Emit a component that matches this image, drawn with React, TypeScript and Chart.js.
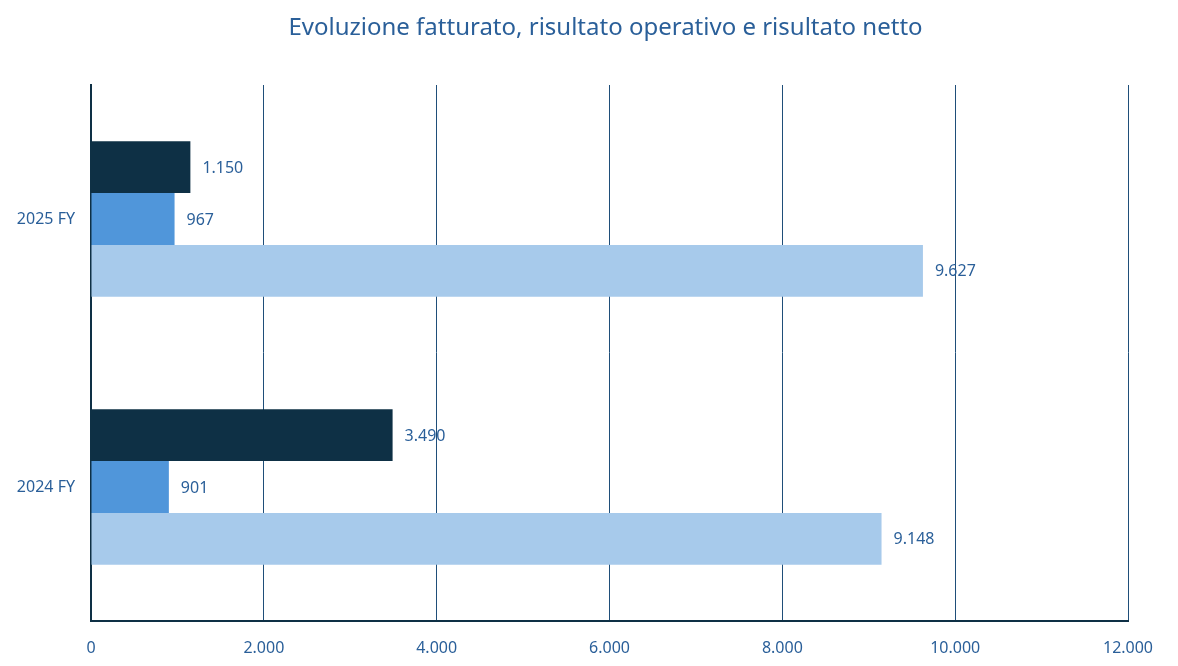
import Chart from "chart.js/auto";
import React, { useEffect, useRef } from "react";

const categories = ["2025 FY", "2024 FY"];
const risultatoNetto = [1150, 3490];
const risultatoOperativo = [967, 901];
const fatturato = [9627, 9148];
const xTicks = [0, 2000, 4000, 6000, 8000, 10000, 12000];
const titleText = "Evoluzione fatturato, risultato operativo e risultato netto";

const TEXT = "#2A5F99";
const FONT = "'Noto Sans', sans-serif";

const fmt = (v: number) =>
  String(Math.round(v)).replace(/\B(?=(\d{3})+(?!\d))/g, ".");

// draws the value next to each bar end, and the title over the plot area
const valueLabels = {
  id: "valueLabels",
  afterDatasetsDraw(chart: any) {
    const ctx = chart.ctx;
    ctx.save();
    ctx.fillStyle = TEXT;
    ctx.font = `16px ${FONT}`;
    ctx.textBaseline = "middle";
    ctx.textAlign = "left";
    chart.data.datasets.forEach((ds: any, i: number) => {
      const meta = chart.getDatasetMeta(i);
      meta.data.forEach((bar: any, j: number) => {
        ctx.fillText(fmt(ds.data[j]), bar.x + 12, bar.y + 1);
      });
    });
    ctx.font = `24px ${FONT}`;
    ctx.textAlign = "center";
    const area = chart.chartArea;
    ctx.fillText(titleText, (area.left + area.right) / 2 - 4, 28);
    ctx.restore();
  },
};

const App: React.FC = () => {
  const chartRef = useRef<HTMLCanvasElement | null>(null);
  const chartInstanceRef = useRef<Chart | null>(null);

  useEffect(() => {
    document.body.style.margin = "0";
    if (!chartRef.current) return;
    if (chartInstanceRef.current) chartInstanceRef.current.destroy();
    const ctx = chartRef.current.getContext("2d");
    if (!ctx) return;

    chartInstanceRef.current = new Chart(ctx, {
      type: "bar",
      data: {
        labels: categories,
        datasets: [
          { label: "Risultato netto", data: risultatoNetto, backgroundColor: "#0E3045" },
          { label: "Risultato operativo", data: risultatoOperativo, backgroundColor: "#5096DA" },
          { label: "Fatturato", data: fatturato, backgroundColor: "#A7CAEB" },
        ],
      },
      options: {
        indexAxis: "y",
        animation: false,
        responsive: true,
        maintainAspectRatio: false,
        layout: { padding: { left: 0, right: 50, top: 85, bottom: 0 } },
        datasets: { bar: { categoryPercentage: 0.58, barPercentage: 1 } },
        plugins: {
          legend: { display: false },
          tooltip: { enabled: false },
          title: { display: false },
        },
        scales: {
          x: {
            min: 0,
            max: 12000,
            afterBuildTicks: (scale: any) => {
              scale.ticks = xTicks.map((v) => ({ value: v }));
            },
            afterFit: (scale: any) => {
              scale.height = 45;
            },
            ticks: {
              color: TEXT,
              font: { family: FONT, size: 16 },
              padding: 18,
              callback: (v: any) => fmt(Number(v)),
            },
            grid: { color: "#1F4E79", lineWidth: 1, drawTicks: false },
            border: { color: "#0E3045", width: 2 },
          },
          y: {
            afterFit: (scale: any) => {
              scale.width = 91;
            },
            ticks: {
              color: TEXT,
              font: { family: FONT, size: 16 },
              padding: 16,
            },
            grid: { display: false, drawTicks: false },
            border: { color: "#0E3045", width: 2 },
          },
        },
      },
      plugins: [valueLabels],
    });

    return () => {
      if (chartInstanceRef.current) {
        chartInstanceRef.current.destroy();
        chartInstanceRef.current = null;
      }
    };
  }, []);

  return (
    <div style={{ position: "relative", width: 1178, height: 666, background: "#fff" }}>
      <canvas ref={chartRef} />
    </div>
  );
};

export default App;
